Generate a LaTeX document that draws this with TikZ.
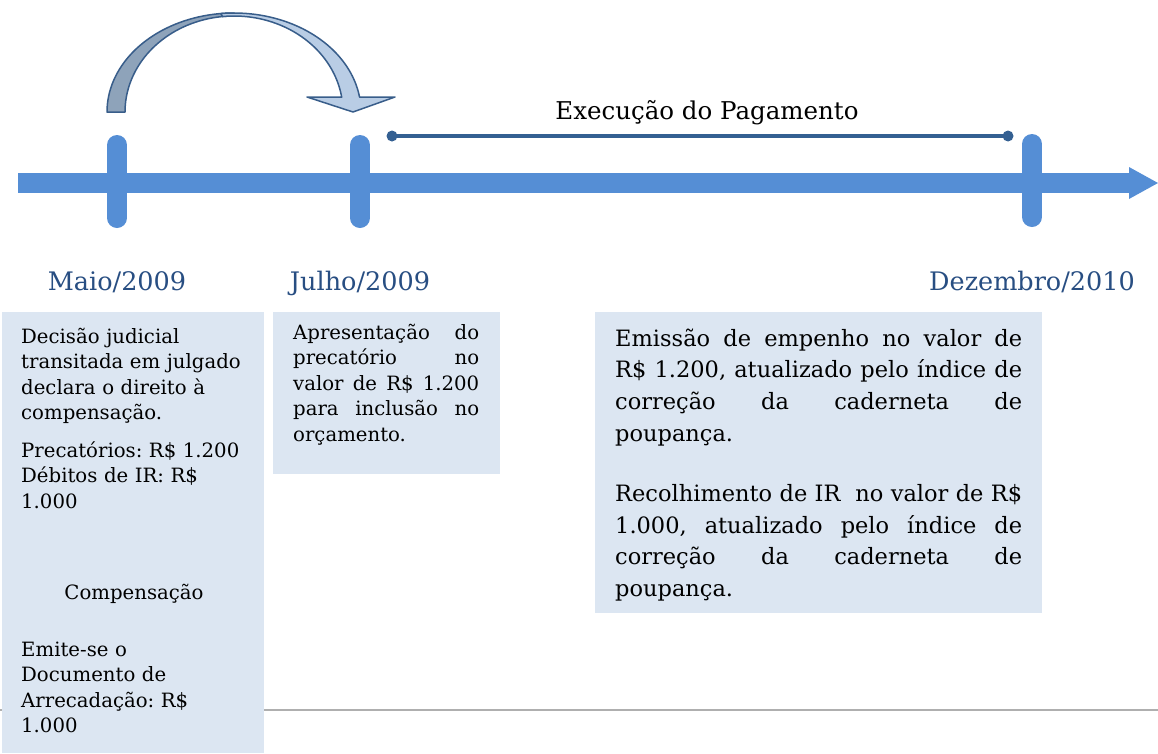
\documentclass[tikz,border=0pt]{standalone}
\usepackage{fontspec}
\setmainfont{DejaVu Serif}
\setlength{\parindent}{0pt}
\setlength{\parskip}{0pt}
\frenchspacing
\hyphenpenalty=10000
\exhyphenpenalty=10000
\tolerance=10000
\hbadness=10000
\definecolor{axisblue}{RGB}{85,142,213}
\definecolor{boxfill}{RGB}{220,230,242}
\definecolor{labelblue}{RGB}{40,78,130}
\definecolor{spanblue}{RGB}{52,96,146}
\definecolor{arrowdark}{RGB}{142,163,186}
\definecolor{arrowlight}{RGB}{185,205,229}
\definecolor{arrowline}{RGB}{56,93,138}
\definecolor{rulegray}{RGB}{175,175,175}
\begin{document}
\begin{tikzpicture}[x=1pt,y=-1pt,
  tickmark/.style={line width=20pt, line cap=round, draw=axisblue},
  datelabel/.style={text=labelblue, font=\fontsize{25.5pt}{30pt}\selectfont, inner sep=0pt, anchor=base},
  panel/.style={fill=boxfill, inner sep=0pt, outer sep=0pt, anchor=north west},
  bodytext/.style={inner sep=0pt, anchor=north west, font=\fontsize{19.7pt}{25.5pt}\selectfont},
  bigtext/.style={inner sep=0pt, anchor=north west, font=\fontsize{22.5pt}{31.7pt}\selectfont},
  spandot/.style={circle, fill=spanblue, inner sep=0pt, minimum size=11pt}
]
\useasboundingbox (0,0) rectangle (1158,753);

% gray rule
\coordinate (gl) at (0,710);
\coordinate (gr) at (1158,710);
\draw[rulegray, line width=1.5pt] (gl) -- (gr);

% panels
\node[panel, minimum width=262pt, minimum height=441pt] (p1) at (2,312) {};
\node[panel, minimum width=227pt, minimum height=162pt] (p2) at (273,312) {};
\node[panel, minimum width=447pt, minimum height=301pt] (p3) at (595,312) {};

% main axis
\coordinate (axL) at (18,183);
\coordinate (axR) at (1130,183);
\draw[axisblue, line width=20pt] (axL) -- (axR);
\coordinate (headT) at (1129,167);
\coordinate (headB) at (1129,199);
\coordinate (headTip) at (1158,183);
\fill[axisblue] (headT) -- (headTip) -- (headB) -- cycle;

% ticks
\coordinate (t1a) at (117,145); \coordinate (t1b) at (117,218);
\coordinate (t2a) at (360,145); \coordinate (t2b) at (360,218);
\coordinate (t3a) at (1032,144); \coordinate (t3b) at (1032,217);
\draw[tickmark] (t1a) -- (t1b);
\draw[tickmark] (t2a) -- (t2b);
\draw[tickmark] (t3a) -- (t3b);

% date labels
\node[datelabel] (maio) at (117,290) {Maio/2009};
\node[datelabel] (julho) at (360,290) {Julho/2009};
\node[datelabel] (dez) at (1032,290) {Dezembro/2010};

% execution span
\node[spandot] (s1) at (392,136) {};
\node[spandot] (s2) at (1008,136) {};
\draw[spanblue, line width=4pt] (s1.center) -- (s2.center);
\node[inner sep=0pt, anchor=base, font=\fontsize{24.5pt}{29pt}\selectfont] (exec) at (707,119) {Execução do Pagamento};

% curved arrow
\fill[arrowdark, draw=arrowline, line width=1.5pt, line join=round]
  plot[domain=180:90, samples=40] ({234+127*cos(\x)},{112-99*sin(\x)})
  -- plot[domain=90:180, samples=40] ({234+109*cos(\x)},{112-96*sin(\x)}) -- cycle;
\fill[arrowlight, draw=arrowline, line width=1.5pt, line join=round]
  plot[domain=96:8.7, samples=50] ({234+127*cos(\x)},{112-99*sin(\x)})
  -- (395,97) -- (353,112) -- (307,97)
  -- plot[domain=8.9:96, samples=50] ({234+109*cos(\x)},{112-96*sin(\x)}) -- cycle;

% box 1 text
\node[bodytext, text width=224pt, align=left] (b1a) at (21,326)
  {\rule{0pt}{17pt}Decisão judicial\\transitada em julgado\\declara o direito à\\compensação.};
\node[bodytext, text width=224pt, align=left] (b1b) at (21,440)
  {\rule{0pt}{17pt}Precatórios: R\$ 1.200\\Débitos de IR: R\$\\1.000};
\node[inner sep=0pt, anchor=base, font=\fontsize{19.7pt}{25.5pt}\selectfont] (b1c) at (134,599) {Compensação};
\node[bodytext, text width=224pt, align=left] (b1d) at (21,639)
  {\rule{0pt}{17pt}Emite-se o\\Documento de\\Arrecadação: R\$\\1.000};

% box 2 text
\node[bodytext, text width=186pt, align=justify] (b2) at (293,322)
  {\rule{0pt}{17pt}Apresentação do\linebreak precatório no\linebreak valor de R\$ 1.200\linebreak para inclusão no\linebreak orçamento.};

% box 3 text
\node[bigtext, text width=407pt, align=justify] (b3) at (615,326)
  {\rule{0pt}{20pt}Emissão de empenho no valor de\linebreak R\$ 1.200, atualizado pelo índice de\linebreak correção da caderneta de\linebreak poupança.\par
   \vspace{28.3pt}Recolhimento de IR\ \ no valor de R\$\linebreak 1.000, atualizado pelo índice de\linebreak correção da caderneta de\linebreak poupança.};
\end{tikzpicture}
\end{document}
